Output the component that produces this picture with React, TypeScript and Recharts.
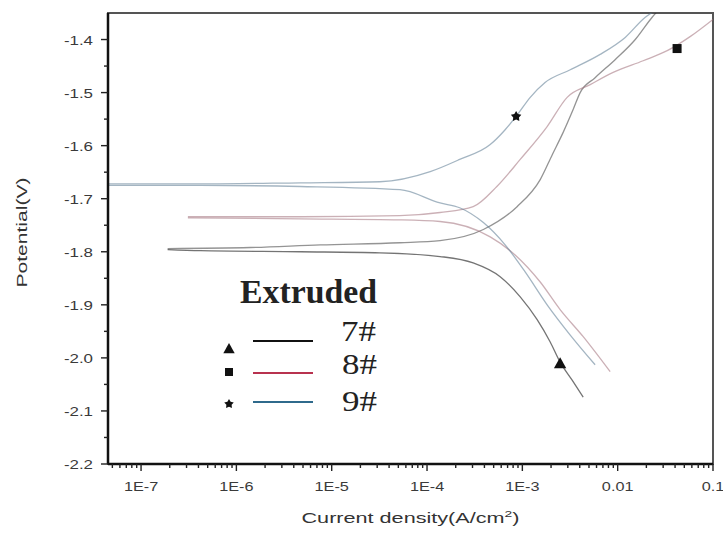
import React from 'react';
import { ComposedChart, Line, Scatter, XAxis, YAxis, ReferenceArea } from 'recharts';

// potentiodynamic polarization curves, [current density A/cm2, potential V]
const cathodic7: [number, number][] = [
  [1.9e-7, -1.796], [4.2e-7, -1.798], [4.7e-6, -1.8], [3.2e-5, -1.802], [1.37e-4, -1.809],
  [3.05e-4, -1.821], [5.85e-4, -1.847], [9.5e-4, -1.885], [1.43e-3, -1.928], [1.96e-3, -1.97],
  [2.49e-3, -2.008], [3.33e-3, -2.042], [4.35e-3, -2.074],
];
const anodic7: [number, number][] = [
  [1.9e-7, -1.794], [1.4e-6, -1.792], [7.6e-6, -1.787], [5.2e-5, -1.783], [1.37e-4, -1.779],
  [3.9e-4, -1.758], [8.8e-4, -1.715], [1.54e-3, -1.664], [2.06e-3, -1.617], [2.68e-3, -1.575],
  [3.41e-3, -1.532], [4.04e-3, -1.5], [5.8e-3, -1.472], [9.4e-3, -1.438], [1.53e-2, -1.4],
  [2.3e-2, -1.358], [2.54e-2, -1.349],
];
const cathodic8: [number, number][] = [
  [3.1e-7, -1.736], [4.7e-6, -1.738], [5.2e-5, -1.74], [1.37e-4, -1.743], [4.6e-4, -1.772],
  [8.4e-4, -1.806], [1.54e-3, -1.857], [2.49e-3, -1.909], [4.35e-3, -1.96], [8.34e-3, -2.026],
];
const anodic8: [number, number][] = [
  [3.1e-7, -1.734], [4.7e-6, -1.734], [5.2e-5, -1.732], [1.37e-4, -1.726], [3.05e-4, -1.715],
  [5.4e-4, -1.677], [9.5e-4, -1.626], [1.82e-3, -1.564], [2.95e-3, -1.509], [5.15e-3, -1.485],
  [8.97e-3, -1.462], [1.85e-2, -1.44], [3.31e-2, -1.421], [5.8e-2, -1.394], [0.1, -1.362],
];
const cathodic9: [number, number][] = [
  [4.5e-8, -1.675], [4.2e-7, -1.675], [4.7e-6, -1.677], [5.2e-5, -1.683], [1.37e-4, -1.708],
  [2.2e-4, -1.717], [3.9e-4, -1.745], [6.6e-4, -1.787], [1.07e-3, -1.838], [1.82e-3, -1.9],
  [3.18e-3, -1.957], [5.8e-3, -2.013],
];
const anodic9: [number, number][] = [
  [4.5e-8, -1.672], [4.2e-7, -1.672], [4.7e-6, -1.67], [3.2e-5, -1.668], [1.08e-4, -1.649],
  [2.2e-4, -1.626], [4.6e-4, -1.598], [6.6e-4, -1.57], [8.6e-4, -1.545], [1.21e-3, -1.509],
  [1.73e-3, -1.481], [3.18e-3, -1.457], [6.55e-3, -1.428], [1.2e-2, -1.396], [1.95e-2, -1.358],
  [2.3e-2, -1.349],
];

const marker7: [number, number][] = [[2.49e-3, -2.011]];
const marker8: [number, number][] = [[4.2e-2, -1.417]];
const marker9: [number, number][] = [[8.6e-4, -1.545]];

const xMajor = [1e-7, 1e-6, 1e-5, 1e-4, 1e-3, 1e-2, 1e-1];
const xTickLabels = ['1E-7', '1E-6', '1E-5', '1E-4', '1E-3', '0.01', '0.1'];
const yMajor = [-2.2, -2.1, -2.0, -1.9, -1.8, -1.7, -1.6, -1.5, -1.4];
const yTickLabels = ['-2.2', '-2.1', '-2.0', '-1.9', '-1.8', '-1.7', '-1.6', '-1.5', '-1.4'];
const yMinor = [-2.15, -2.05, -1.95, -1.85, -1.75, -1.65, -1.55, -1.45];

const X_DOMAIN: [number, number] = [4.5e-8, 0.1];
const Y_DOMAIN: [number, number] = [-2.2, -1.35];

const C7 = '#2a2a2a';
const C8 = '#b8324f';
const C9 = '#2f6a8c';

const toRows = (pts: [number, number][]) => pts.map(([i, v]) => ({ i, v }));

// minor log ticks 2..9 inside each decade
const xTicks: number[] = [];
[1e-8, ...xMajor].forEach((d) => {
  for (let k = 1; k <= 9; k++) {
    const t = d * k;
    if (t >= X_DOMAIN[0] * 0.999 && t <= X_DOMAIN[1] * 1.001) xTicks.push(t);
  }
});

const XTick = (props: any) => {
  const { x, y, payload } = props;
  const idx = xMajor.findIndex((d) => Math.abs(payload.value / d - 1) < 1e-6);
  const major = idx >= 0;
  return (
    <g>
      <line x1={x} x2={x} y1={y} y2={y + (major ? 7 : 4)} stroke="#222" strokeWidth={1.4} />
      {major && (
        <text
          transform={`translate(${x},${y + 27}) scale(1.25,1)`}
          textAnchor="middle"
          fontFamily="Liberation Sans, Arial, sans-serif"
          fontSize={13}
          fill="#3a3a3a"
        >
          {xTickLabels[idx]}
        </text>
      )}
    </g>
  );
};

const YTick = (props: any) => {
  const { x, y, payload } = props;
  const idx = yMajor.findIndex((d) => Math.abs(payload.value - d) < 1e-6);
  const major = idx >= 0;
  return (
    <g>
      <line x1={x} x2={x - (major ? 7 : 4)} y1={y} y2={y} stroke="#222" strokeWidth={1.4} />
      {major && (
        <text
          transform={`translate(${x - 15},${y + 5}) scale(1.3,1)`}
          textAnchor="end"
          fontFamily="Liberation Sans, Arial, sans-serif"
          fontSize={13}
          fill="#3a3a3a"
        >
          {yTickLabels[idx]}
        </text>
      )}
    </g>
  );
};

const triPath = (cx: number, cy: number, r: number) =>
  `M${cx},${cy - r} L${cx + r * 0.95},${cy + r * 0.7} L${cx - r * 0.95},${cy + r * 0.7} Z`;

const starPath = (cx: number, cy: number, r: number) => {
  let d = '';
  for (let k = 0; k < 10; k++) {
    const rr = k % 2 === 0 ? r : r * 0.55;
    const a = -Math.PI / 2 + (k * Math.PI) / 5;
    d += `${k === 0 ? 'M' : 'L'}${cx + rr * Math.cos(a)},${cy + rr * Math.sin(a)} `;
  }
  return d + 'Z';
};

const Triangle = (p: any) => <path d={triPath(p.cx, p.cy, 6.5)} fill="#111" />;
const Square = (p: any) => <rect x={p.cx - 4.5} y={p.cy - 4.5} width={9} height={9} fill="#111" />;
const Star = (p: any) => <path d={starPath(p.cx, p.cy, 5.5)} fill="#111" />;

const XTitle = (props: any) => {
  const { viewBox } = props;
  const cx = viewBox.x + viewBox.width / 2;
  return (
    <text
      x={cx}
      y={viewBox.y + 59}
      textAnchor="middle"
      fontFamily="Liberation Sans, Arial, sans-serif"
      fontSize={14}
      fill="#333"
      textLength={218}
      lengthAdjust="spacingAndGlyphs"
    >
      Current density(A/cm
      <tspan dy={-6} fontSize={9}>2</tspan>
      <tspan dy={6}>)</tspan>
    </text>
  );
};

const YTitle = (props: any) => {
  const { viewBox } = props;
  const cy = viewBox.y + viewBox.height / 2 - 6;
  return (
    <text
      transform={`translate(27,${cy}) rotate(-90)`}
      textAnchor="middle"
      fontFamily="Liberation Sans, Arial, sans-serif"
      fontSize={14}
      fill="#333"
      textLength={110}
      lengthAdjust="spacingAndGlyphs"
    >
      Potential(V)
    </text>
  );
};

const lineProps = {
  type: 'monotone' as const,
  dataKey: 'v',
  dot: false,
  activeDot: false,
  strokeWidth: 1.3,
  isAnimationActive: false,
};

const serif = 'Liberation Serif, Times New Roman, serif';

export default function App() {
  return (
    <div style={{ position: 'absolute', left: 0, top: 0, width: 723, height: 538, background: '#fff' }}>
      <ComposedChart width={723} height={538} margin={{ top: 13, right: 10, bottom: 0, left: 0 }}>
        <XAxis
          dataKey="i"
          type="number"
          scale="log"
          domain={X_DOMAIN}
          allowDataOverflow
          ticks={xTicks}
          interval={0}
          tickSize={0}
          tickMargin={0}
          tickLine={false}
          tick={<XTick />}
          height={74}
          axisLine={{ stroke: '#111', strokeWidth: 2.5 }}
          label={<XTitle />}
        />
        <YAxis
          type="number"
          domain={Y_DOMAIN}
          allowDataOverflow
          ticks={[...yMajor, ...yMinor].sort((a, b) => a - b)}
          interval={0}
          tickSize={0}
          tickMargin={0}
          tickLine={false}
          tick={<YTick />}
          width={108}
          axisLine={{ stroke: '#111', strokeWidth: 2.5 }}
          label={<YTitle />}
        />
        <ReferenceArea
          x1={X_DOMAIN[0]}
          x2={X_DOMAIN[1]}
          y1={Y_DOMAIN[0]}
          y2={Y_DOMAIN[1]}
          fill="none"
          stroke="#555"
          strokeWidth={2}
          ifOverflow="visible"
        />
        <Line {...lineProps} data={toRows(cathodic7)} stroke={C7} strokeOpacity={0.65} />
        <Line {...lineProps} data={toRows(anodic7)} stroke={C7} strokeOpacity={0.5} />
        <Line {...lineProps} data={toRows(cathodic8)} stroke="#a0707a" strokeOpacity={0.55} />
        <Line {...lineProps} data={toRows(anodic8)} stroke="#a0707a" strokeOpacity={0.55} />
        <Line {...lineProps} data={toRows(cathodic9)} stroke="#5a7890" strokeOpacity={0.55} />
        <Line {...lineProps} data={toRows(anodic9)} stroke="#5a7890" strokeOpacity={0.55} />
        <Scatter data={toRows(marker7)} dataKey="v" shape={<Triangle />} isAnimationActive={false} />
        <Scatter data={toRows(marker8)} dataKey="v" shape={<Square />} isAnimationActive={false} />
        <Scatter data={toRows(marker9)} dataKey="v" shape={<Star />} isAnimationActive={false} />
      </ComposedChart>
      <svg
        width={723}
        height={538}
        style={{ position: 'absolute', left: 0, top: 0, pointerEvents: 'none' }}
      >
        <text x={240} y={303} fontFamily={serif} fontWeight="bold" fontSize={33} fill="#222" textLength={137} lengthAdjust="spacingAndGlyphs">
          Extruded
        </text>
        <path d={triPath(229, 349, 6)} fill="#111" />
        <rect x={225} y={368} width={8} height={8} fill="#111" />
        <path d={starPath(229, 404, 5)} fill="#111" />
        <line x1={253} x2={313} y1={341} y2={341} stroke="#111" strokeWidth={2.2} />
        <line x1={253} x2={313} y1={373} y2={373} stroke={C8} strokeWidth={2.2} />
        <line x1={253} x2={313} y1={402} y2={402} stroke={C9} strokeWidth={2.2} />
        <text x={341} y={341} fontFamily={serif} fontSize={29} fill="#222" textLength={35} lengthAdjust="spacingAndGlyphs">7#</text>
        <text x={342} y={374} fontFamily={serif} fontSize={29} fill="#222" textLength={35} lengthAdjust="spacingAndGlyphs">8#</text>
        <text x={342} y={411} fontFamily={serif} fontSize={29} fill="#222" textLength={35} lengthAdjust="spacingAndGlyphs">9#</text>
      </svg>
    </div>
  );
}
